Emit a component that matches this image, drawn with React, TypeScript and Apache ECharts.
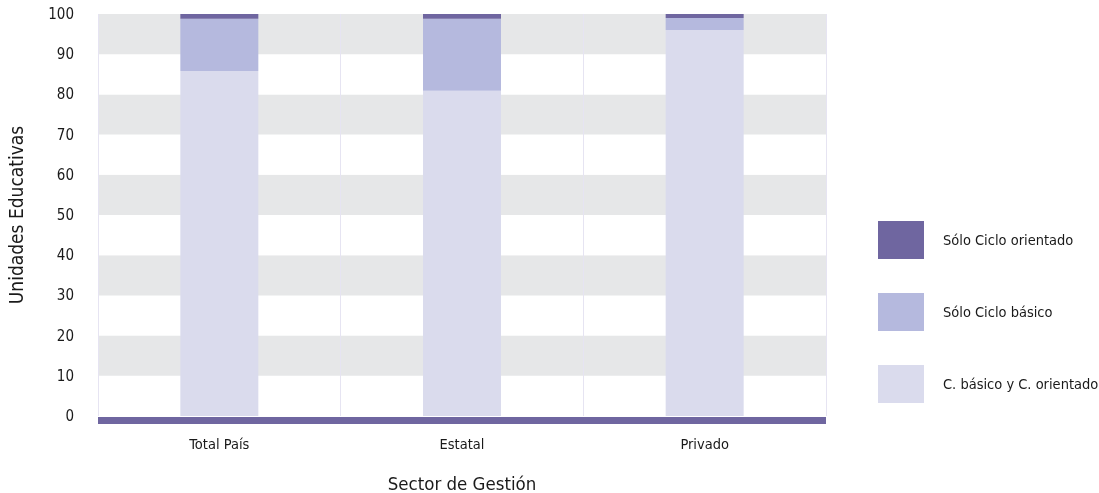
import React, { useEffect, useRef } from "react";
import * as echarts from "echarts";

const categories = ["Total País", "Estatal", "Privado"];
const ambosCiclos = [85.8, 80.9, 96.0];
const soloBasico = [13.0, 17.9, 3.0];
const soloOrientado = [1.2, 1.2, 1.0];
const yTicks = [0, 10, 20, 30, 40, 50, 60, 70, 80, 90, 100];

const FONT = "'Liberation Sans Narrow', 'DejaVu Sans Condensed', 'Noto Sans', sans-serif";

export default function App() {
  const ref = useRef<HTMLDivElement>(null);
  useEffect(() => {
    const chart = echarts.init(ref.current!, null, { renderer: "svg" });
    chart.setOption({
      animation: false,
      textStyle: { fontFamily: FONT, color: "#1a1a1a", fontWeight: "normal" },
      grid: { left: 98, right: 273, top: 14, bottom: 77, containLabel: false, outerBoundsMode: "none" },
      legend: {
        orient: "vertical",
        left: 873,
        top: 216,
        itemWidth: 46,
        itemHeight: 38,
        itemGap: 34,
        icon: "rect",
        textStyle: { fontFamily: FONT, fontSize: 14.5, fontWeight: "normal", color: "#1a1a1a", padding: [0, 0, 0, 14] },
        data: ["Sólo Ciclo orientado", "Sólo Ciclo básico", "C. básico y C. orientado"],
      },
      xAxis: {
        type: "category",
        data: categories,
        offset: 4,
        axisTick: { show: false },
        axisLine: { show: true, onZero: false, lineStyle: { color: "#6f66a0", width: 7, cap: "butt" } },
        axisLabel: { margin: 16, fontSize: 14.5, fontWeight: "normal", color: "#1a1a1a", fontFamily: FONT },
        splitLine: { show: true, lineStyle: { color: "#e6e4f2", width: 1 } },
        name: "Sector de Gestión",
        nameLocation: "middle",
        nameGap: 54,
        nameTextStyle: { fontSize: 18.5, fontWeight: "normal", color: "#1a1a1a", fontFamily: FONT },
      },
      yAxis: {
        type: "value",
        min: yTicks[0],
        max: yTicks[yTicks.length - 1],
        interval: 10,
        axisLine: { show: false },
        axisTick: { show: false },
        axisLabel: { margin: 24, fontSize: 15, fontWeight: "normal", color: "#1a1a1a", fontFamily: FONT },
        splitLine: { show: false },
        splitArea: { show: true, areaStyle: { color: ["#ffffff", "#e6e7e8"] } },
        name: "Unidades Educativas",
        nameLocation: "middle",
        nameGap: 73,
        nameTextStyle: { fontSize: 19, fontWeight: "normal", color: "#1a1a1a", fontFamily: FONT },
      },
      series: [
        {
          name: "C. básico y C. orientado",
          type: "bar",
          stack: "t",
          barWidth: 78,
          data: ambosCiclos,
          itemStyle: { color: "#dadbed" },
        },
        {
          name: "Sólo Ciclo básico",
          type: "bar",
          stack: "t",
          data: soloBasico,
          itemStyle: { color: "#b5b9de" },
        },
        {
          name: "Sólo Ciclo orientado",
          type: "bar",
          stack: "t",
          data: soloOrientado,
          itemStyle: { color: "#6f66a0" },
        },
      ],
    });
    return () => chart.dispose();
  }, []);
  return (
    <div
      ref={ref}
      style={{ position: "fixed", left: 0, top: 0, width: 1099, height: 493 }}
    />
  );
}
